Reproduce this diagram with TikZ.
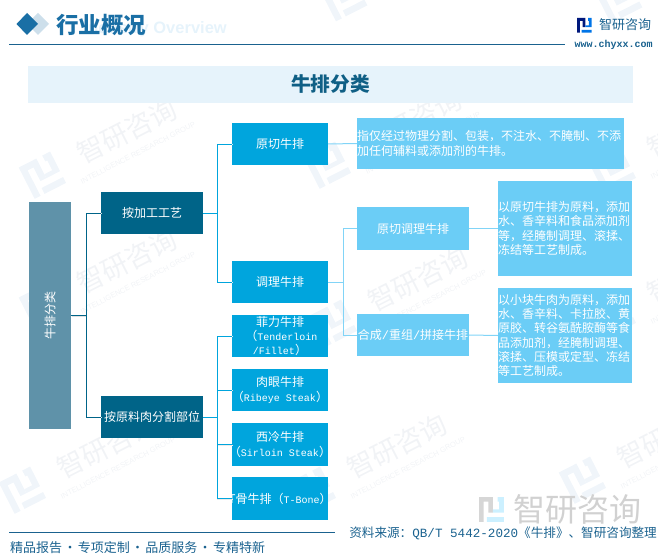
\documentclass[tikz,border=0pt]{standalone}
\usepackage{fontspec}
\setmainfont{Noto Sans CJK SC}
\newfontfamily\monof{Liberation Mono}
\newfontfamily\latinb{Liberation Sans}
\newcommand{\M}[1]{{\monof #1}}
\definecolor{rootc}{HTML}{5F92A9}
\definecolor{catc}{HTML}{006488}
\definecolor{midc}{HTML}{00A5DD}
\definecolor{lightc}{HTML}{6BCDF6}
\definecolor{bandc}{HTML}{E6F3FB}
\definecolor{headc}{HTML}{1A6FA5}
\definecolor{titlec}{HTML}{0F5F85}
\definecolor{linec}{HTML}{1A628F}
\definecolor{wmc}{HTML}{F1F3F6}
\definecolor{wmd}{HTML}{F0F5FA}
\newcommand{\fs}[2]{\fontsize{#1}{#2}\selectfont}
\newcommand{\logomark}[2]{%
  \fill[#1] (0,0) rectangle (9,3) (0,0) rectangle (3,16) (6,6) rectangle (9,10) (6,0) rectangle (9,6);
  \fill[#2] (12,0) rectangle (16,3) (13,0) rectangle (16,10) (5,13) rectangle (16,16) (9,8) rectangle (13,10);
}
\newcommand{\wm}[2]{%
  \begin{scope}[shift={(#1,#2)},rotate=27,transform shape]
    \begin{scope}[shift={(-105,-17)},scale=2.2]\logomark{wmd}{wmd}\end{scope}
    \node[text=wmc,inner sep=0] at (8,0) {\fs{27}{27}智研咨询};
    \node[text=wmc,inner sep=0] at (8,24) {\latinb\fs{7.5}{8}INTELLIGENCE RESEARCH GROUP};
  \end{scope}}
\tikzset{
  x=1pt,y=-1pt,
  boxbase/.style={inner sep=0,text=white,align=center,font=\fs{12}{14.2}},
  rootbox/.style={boxbase,fill=rootc,minimum width=42pt,minimum height=227pt},
  catbox/.style={boxbase,fill=catc,minimum width=102pt,minimum height=42pt},
  midbox/.style={boxbase,fill=midc,minimum width=96pt,minimum height=42pt},
  subbox/.style={boxbase,fill=lightc,minimum width=112pt,minimum height=42.5pt},
  descbox/.style={boxbase,fill=lightc,align=left,text width=134pt,minimum height=95pt},
  link/.style={line width=1pt},
  linkA/.style={link,draw=catc,preaction={draw=black!12,line width=1pt,transform canvas={shift={(.8pt,-.8pt)}}}},
  linkB/.style={link,draw=midc,preaction={draw=black!8,line width=1pt,transform canvas={shift={(.8pt,-.8pt)}}}},
  linkC/.style={link,draw=lightc!85!white},
}
\begin{document}
\begin{tikzpicture}
\useasboundingbox (0,0) rectangle (658,559);
% watermarks
\wm{120}{135}\wm{405}{125}\wm{690}{130}
\wm{120}{265}\wm{411}{283}\wm{690}{275}
\wm{100}{450}\wm{390}{450}\wm{660}{440}
\begin{scope}[shift={(-60,5)},rotate=27,transform shape]\begin{scope}[scale=2.2]\logomark{wmd}{wmd}\end{scope}\end{scope}
\begin{scope}[shift={(320,-10)},rotate=27,transform shape]\begin{scope}[scale=2.2]\logomark{wmd}{wmd}\end{scope}\end{scope}
\begin{scope}[shift={(595,-8)},rotate=27,transform shape]\begin{scope}[scale=2.2]\logomark{wmd}{wmd}\end{scope}\end{scope}
% header
\node[anchor=east,inner sep=0,text=bandc,font=\latinb\bfseries\fs{16.5}{18}] (ghost) at (227,29) {Industry Overview};
\fill[headc!22!white] (38,13) -- (49,24) -- (38,35) -- (27,24) -- cycle;
\fill[headc] (27,13) -- (38,24) -- (27,35) -- (16.5,24) -- cycle;
\node[inner sep=0,text=headc,font=\bfseries\fs{22.5}{24}] (head) at (101,25) {行业概况};
\draw[linec,line width=1pt] (9,45) -- (565,45);
\begin{scope}[shift={(577,18)},scale=.92]\logomark{catc!40!blue!60!black}{midc!70!blue}\end{scope}
\node[inner sep=0,text=linec,font=\fs{13}{14}] (brand) at (625,25) {智研咨询};
\node[inner sep=0,text=linec,font=\monof\bfseries\fs{10}{11}] (site) at (613.5,45) {www.chyxx.com};
% title band
\node[fill=bandc,minimum width=605pt,minimum height=37pt,inner sep=0,text=titlec,font=\bfseries\fs{19.7}{22}] (band) at (330.5,84.5) {牛排分类};
% bottom-right watermark
\begin{scope}[shift={(479,497)},scale=1.55]\logomark{black!16}{blue!30!cyan!20}\end{scope}
\node[inner sep=0,text=black!18,font=\fs{32}{34}] (wmbig) at (577,509) {智研咨询};
% nodes
\node[rootbox] (root) at (50,315.5) {\rotatebox{90}{牛排分类}};
\node[catbox] (cat1) at (152,213) {按加工工艺};
\node[catbox] (cat2) at (152,417) {按原料肉分割部位};
\node[midbox] (a1) at (280,144) {原切牛排};
\node[midbox] (a2) at (280,282) {调理牛排};
\node[midbox] (b1) at (280,336) {菲力牛排\\\hspace*{3pt}（\M{\fs{10}{14.2}Tenderloin}\\\M{\fs{10}{14.2}/Fillet}）};
\node[midbox] (b2) at (280,390) {肉眼牛排\\\makebox[0pt][c]{（\M{\fs{10}{14.2}Ribeye Steak}）}};
\node[midbox,minimum height=43pt] (b3) at (280,444.5) {西冷牛排\\\makebox[0pt][c]{（\M{\fs{10}{14.2}Sirloin Steak}）}};
\node[midbox,minimum height=43pt] (b4) at (280,498.5) {\makebox[0pt][c]{T骨牛排（\M{\fs{10}{14.2}T-Bone}）}};
\node[subbox] (c1) at (413,228.5) {原切调理牛排};
\node[subbox] (c2) at (413,335) {合成\M{/}重组\M{/}拼接牛排};
\node[descbox,text width=267pt,minimum height=51pt] (d0) at (490.5,143.5) {指仅经过物理分割、包装，不注水、不腌制、不添\\加任何辅料或添加剂的牛排。};
\node[descbox] (d1) at (565,228.5) {以原切牛排为原料，添加\\水、香辛料和食品添加剂\\等，经腌制调理、滚揉、\\冻结等工艺制成。};
\node[descbox] (d2) at (565,335.5) {以小块牛肉为原料，添加\\水、香辛料、卡拉胶、黄\\原胶、转谷氨酰胺酶等食\\品添加剂，经腌制调理、\\滚揉、压模或定型、冻结\\等工艺制成。};
% junctions
\coordinate (j0) at (86,315.5);
\coordinate (j1) at (217,213);
\coordinate (j2) at (217,417);
\coordinate (j3) at (343,282);
% connectors
\draw[linkA,line width=1.5pt] (root.east) -- (j0);
\draw[linkA] (j0) |- (cat1.west);
\draw[linkA] (j0) |- (cat2.west);
\draw[linkB] (cat1.east) -- (j1);
\draw[linkB] (j1) |- (a1.west);
\draw[linkB] (j1) |- (a2.west);
\draw[linkB] (cat2.east) -- (j2);
\draw[linkB] (j2) |- (b1.west);
\draw[linkB] (j2) |- (b2.west);
\draw[linkB] (j2) |- (b3.west);
\draw[linkB] (j2) |- (b4.west);
\draw[linkC] (a1.east) -- (d0.west);
\draw[linkC] (a2.east) -- (j3);
\draw[linkC] (j3) |- (c1.west);
\draw[linkC] (j3) |- (c2.west);
\draw[linkC] (c1.east) -- (d1.west);
\draw[linkC] (c2.east) -- (d2.west);
% footer
\draw[linec,line width=1pt] (9,532) -- (335,532);
\node[anchor=west,inner sep=0,text=linec,font=\fs{13}{14}] (foot) at (10,548) {精品报告\hspace{1.3pt}·\hspace{1.3pt}专项定制\hspace{1.3pt}·\hspace{1.3pt}品质服务\hspace{1.3pt}·\hspace{1.3pt}专精特新};
\node[anchor=east,inner sep=0,text=linec,font=\fs{12.6}{14}] (src) at (657,533) {资料来源：\M{QB/T 5442-2020}《牛排》、智研咨询整理};
\end{tikzpicture}
\end{document}
